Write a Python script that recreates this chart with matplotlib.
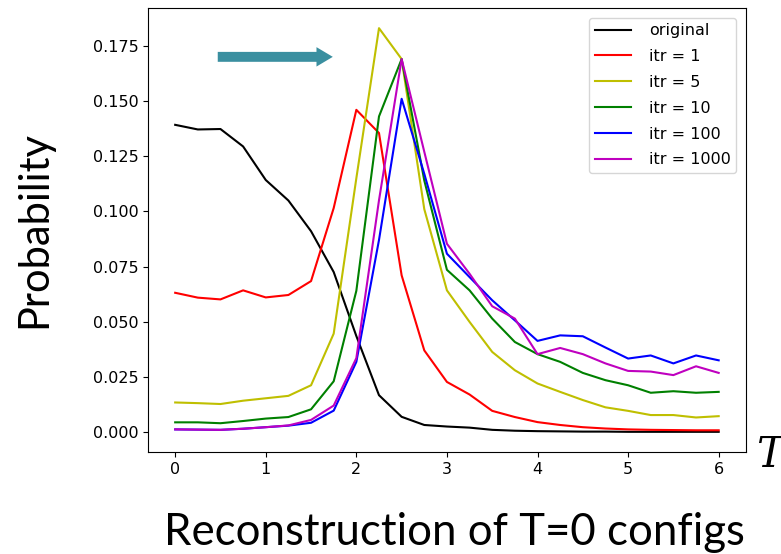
import numpy as np
import matplotlib.pyplot as plt

# temperature grid, 0 to 6 in steps of 0.25
temps = np.arange(25) * 0.25

original = [0.1392, 0.1371, 0.1373, 0.1294, 0.1142, 0.1049, 0.0910, 0.0725,
            0.0435, 0.0167, 0.0069, 0.0032, 0.0025, 0.0020, 0.0010, 0.0006,
            0.0004, 0.0003, 0.0002, 0.0002, 0.0001, 0.0001, 0.0001, 0.0001, 0.0001]
itr1 = [0.0631, 0.0609, 0.0601, 0.0642, 0.0610, 0.0621, 0.0684, 0.1015,
        0.1460, 0.1355, 0.0710, 0.0370, 0.0227, 0.0170, 0.0096, 0.0068,
        0.0045, 0.0032, 0.0022, 0.0016, 0.0012, 0.0010, 0.0009, 0.0008, 0.0008]
itr5 = [0.0134, 0.0131, 0.0127, 0.0142, 0.0153, 0.0164, 0.0212, 0.0446,
        0.1150, 0.1830, 0.1690, 0.1010, 0.0642, 0.0499, 0.0363, 0.0280,
        0.0220, 0.0182, 0.0145, 0.0112, 0.0096, 0.0077, 0.0077, 0.0066, 0.0072]
itr10 = [0.0044, 0.0044, 0.0040, 0.0050, 0.0061, 0.0068, 0.0103, 0.0230,
         0.0640, 0.1430, 0.1690, 0.1140, 0.0735, 0.0642, 0.0514, 0.0408,
         0.0353, 0.0318, 0.0268, 0.0235, 0.0212, 0.0178, 0.0185, 0.0178, 0.0182]
itr100 = [0.0012, 0.0011, 0.0010, 0.0015, 0.0022, 0.0029, 0.0042, 0.0097,
          0.0318, 0.0870, 0.1510, 0.1170, 0.0808, 0.0702, 0.0597, 0.0506,
          0.0413, 0.0438, 0.0434, 0.0383, 0.0333, 0.0347, 0.0311, 0.0347, 0.0325]
itr1000 = [0.0012, 0.0011, 0.0010, 0.0015, 0.0022, 0.0030, 0.0055, 0.0120,
           0.0335, 0.1050, 0.1690, 0.1270, 0.0853, 0.0717, 0.0570, 0.0514,
           0.0353, 0.0381, 0.0353, 0.0311, 0.0277, 0.0274, 0.0258, 0.0298, 0.0268]

series = [original, itr1, itr5, itr10, itr100, itr1000]
labels = ["original", "itr = 1", "itr = 5", "itr = 10", "itr = 100", "itr = 1000"]
colors = ["k", "r", "y", "g", "b", "m"]

fig = plt.figure(figsize=(7.81, 5.54), dpi=100)
ax = fig.add_axes([0.1895, 0.1841, 0.7655, 0.8015])

for vals, lab, col in zip(series, labels, colors):
    ax.plot(temps, vals, color=col, lw=1.5, label=lab)

ax.set_xticks([0, 1, 2, 3, 4, 5, 6])
ax.set_yticks([0.0, 0.025, 0.05, 0.075, 0.1, 0.125, 0.15, 0.175])
ax.tick_params(labelsize=11.5)
ax.legend(loc="upper right", fontsize=11.5, borderaxespad=0.6,
          handletextpad=1.1, labelspacing=0.68, borderpad=0.35,
          handlelength=2.3)

# shift arrow
ax.arrow(0.47, 0.170, 1.27, 0, width=0.0045, head_width=0.0088,
         head_length=0.18, length_includes_head=True,
         color="#3a8fa0", lw=0)

ax.set_ylabel("Probability", family="Lato", fontsize=30, labelpad=28)
ax.set_xlabel("Reconstruction of T=0 configs", family="Lato", fontsize=31.5)
ax.xaxis.set_label_coords(0.512, -0.135)

fig.text(0.968, 0.178, "T", family="DejaVu Serif", style="italic",
         fontsize=30, ha="left", va="center")

fig.savefig("out.png", dpi=100)
